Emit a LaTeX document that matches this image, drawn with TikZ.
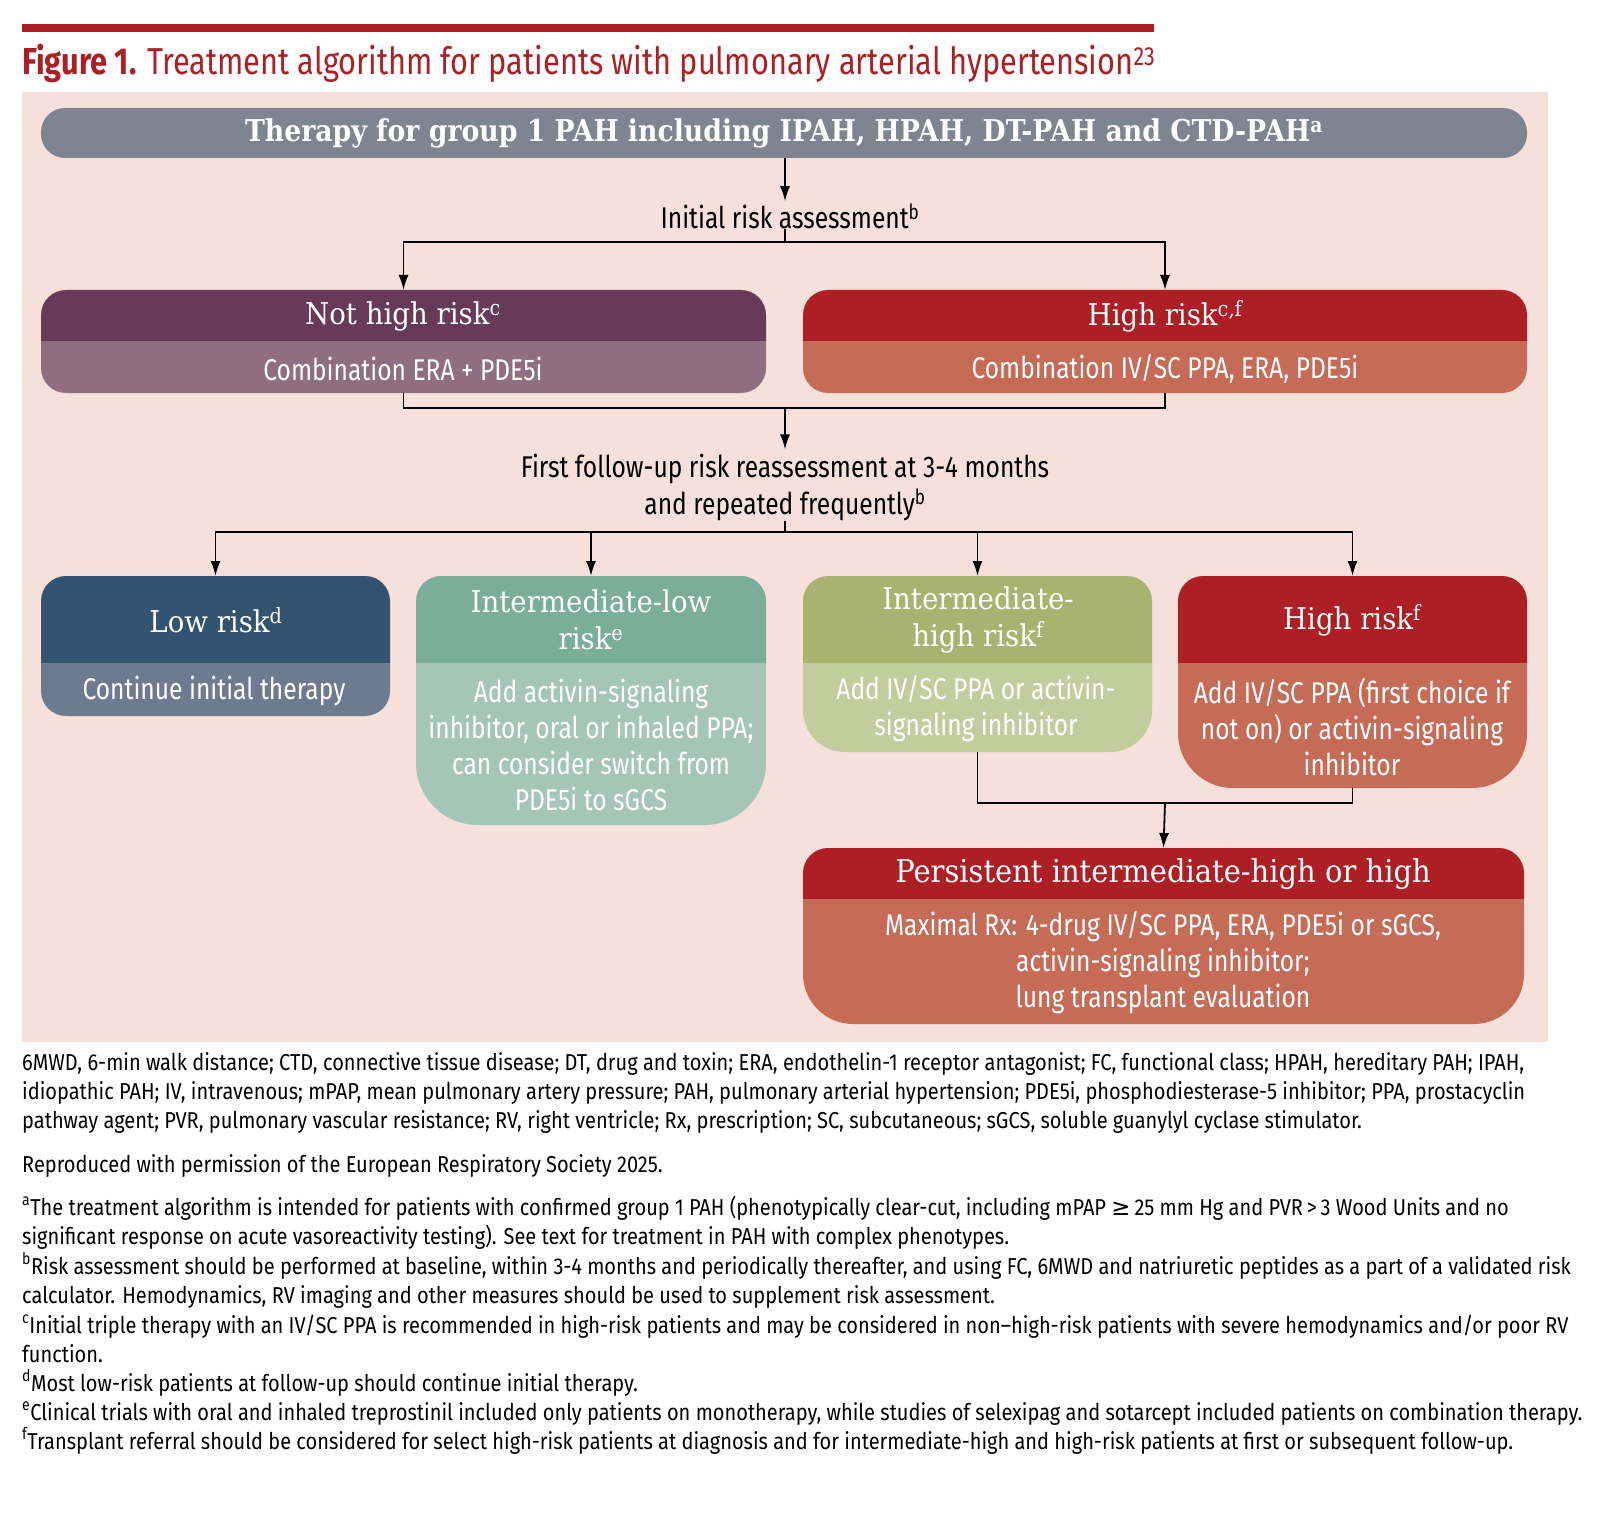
\documentclass[tikz,border=0pt]{standalone}
\usepackage{fontspec}
\setmainfont{Fira Sans}[FakeStretch=0.82]
\newfontfamily\footfam{Fira Sans}[FakeStretch=0.87]
\newfontfamily\slab{DejaVu Serif}[FakeStretch=0.92]
\newfontfamily\slabb{DejaVu Serif}[FakeStretch=0.89]
\newfontfamily\dvs{DejaVu Sans}
\usetikzlibrary{arrows.meta,calc}
\definecolor{bgpink}{HTML}{F5E1DA}
\definecolor{titlered}{HTML}{AD1F24}
\definecolor{topgray}{HTML}{7F8491}
\definecolor{nhrH}{HTML}{663A58}\definecolor{nhrB}{HTML}{8E6E80}
\definecolor{hrH}{HTML}{AD1F24}\definecolor{hrB}{HTML}{C66B56}
\definecolor{lowH}{HTML}{33546F}\definecolor{lowB}{HTML}{6D7B91}
\definecolor{ilH}{HTML}{7AAD9A}\definecolor{ilB}{HTML}{A5C5B8}
\definecolor{ihH}{HTML}{A8B36F}\definecolor{ihB}{HTML}{C3CC9C}
\newcommand\riskbox[8]{%
  \pgfmathsetmacro\rbw{#4-#2}\pgfmathsetmacro\rbh{#6-#3}%
  \pgfmathsetmacro\rbcx{(#2+#4)/2}\pgfmathsetmacro\rbcy{(#3+#6)/2}%
  \begin{scope}\clip (#2-2,#5) rectangle (#4+2,#6+2);
    \fill[#8B, rounded corners=#7pt] (#2,#3) rectangle (#4,#6);\end{scope}
  \begin{scope}\clip (#2-2,#3-2) rectangle (#4+2,#5);
    \fill[#8H, rounded corners=25pt] (#2,#3) rectangle (#4,#6);\end{scope}
  \node[frame, minimum width=\rbw pt, minimum height=\rbh pt] (#1) at (\rbcx,\rbcy) {};
}
\begin{document}
\begin{tikzpicture}[x=1pt,y=-1pt,
  frame/.style={inner sep=0pt, outer sep=0pt, draw=none},
  head/.style={text=white, align=center, inner sep=0pt, font=\slab\fontsize{30}{37}\selectfont},
  body/.style={text=white, align=center, inner sep=0pt, font=\fontsize{30}{36}\selectfont},
  plain/.style={text=black, align=center, inner sep=0pt, font=\fontsize{30}{37}\selectfont},
  foot/.style={text=black, anchor=base west, inner sep=0pt, font=\footfam\fontsize{23}{29}\selectfont},
  conn/.style={line width=1.8pt, black},
  arr/.style={conn, -{Latex[length=15pt,width=10pt]}}]
\useasboundingbox (0,0) rectangle (1622,1530);
\fill[white] (0,0) rectangle (1622,1530);
% title
\fill[titlered] (22,24) rectangle (1154,32);
\node[anchor=base west, inner sep=0pt, text=titlered, font=\fontsize{37.5}{44}\selectfont] (title) at (22,75)
  {{\bfseries Figure 1.} Treatment algorithm for patients with pulmonary arterial hypertension\textsuperscript{23}};
\fill[bgpink] (22,92) rectangle (1548,1042);
% top box
\node[fill=topgray, rounded corners=24pt, minimum width=1486pt, minimum height=50pt, inner sep=0pt,
  text=white, font=\slabb\bfseries\fontsize{30}{36}\selectfont] (top) at (784,133)
  {Therapy for group 1 PAH including IPAH, HPAH, DT-PAH and CTD-PAH\textsuperscript{a}};
\node[plain] (ira) at (790,216) {Initial risk assessment\textsuperscript{b}};
% first row
\riskbox{nhr}{41}{290}{766}{340}{393}{25}{nhr}
\riskbox{hr}{803}{290}{1527}{340}{393}{25}{hr}
\node[head] (nhrh) at (403,316) {Not high risk\textsuperscript{c}};
\node[body] (nhrb) at (403,369) {Combination ERA + PDE5i};
\node[head] (hrh) at (1165,316) {High risk\textsuperscript{c,f}};
\node[body] (hrb) at (1165,369) {Combination IV/SC PPA, ERA, PDE5i};
\node[plain] (ffu) at (785,487) {First follow-up risk reassessment at 3-4 months\\and repeated frequently\textsuperscript{b}};
% second row
\riskbox{low}{41}{576}{390}{662}{716}{25}{low}
\riskbox{il}{416}{576}{766}{662}{825}{62}{il}
\riskbox{ih}{803}{576}{1152}{662}{752}{42}{ih}
\riskbox{h2}{1178}{576}{1527}{662}{788}{55}{hr}
\node[head] (lowh) at (216,620) {Low risk\textsuperscript{d}};
\node[body] (lowb) at (214,691) {Continue initial therapy};
\node[head] (ilh) at (591,620) {Intermediate-low\\risk\textsuperscript{e}};
\node[body] (ilb) at (591,745) {Add activin-signaling\\inhibitor, oral or inhaled PPA;\\can consider switch from\\PDE5i to sGCS};
\node[head] (ihh) at (978,620) {Intermediate-\\high risk\textsuperscript{f}};
\node[body] (ihb) at (976,709) {Add IV/SC PPA or activin-\\signaling inhibitor};
\node[head] (h2h) at (1352,620) {High risk\textsuperscript{f}};
\node[body] (h2b) at (1352,727) {Add IV/SC PPA (first choice if\\not on) or activin-signaling\\inhibitor};
% persistent
\riskbox{pers}{803}{848}{1524}{898}{1024}{50}{hr}
\node[head, font=\slab\fontsize{31.5}{37}\selectfont] (persh) at (1163,874) {Persistent intermediate-high or high};
\node[body] (persb) at (1163,963) {Maximal Rx: 4-drug IV/SC PPA, ERA, PDE5i or sGCS,\\activin-signaling inhibitor;\\lung transplant evaluation};
% connectors
\coordinate (j1) at (785,242);
\coordinate (j2) at (785,408);
\coordinate (j3) at (785,532);
\coordinate (j4) at (1165,803);
\draw[arr] (top.south -| j1) -- ($(ira.north -| j1)+(0,-2)$);
\draw[conn] (ira.south -| j1) -- (j1);
\draw[arr] (j1) -| (nhr.north);
\draw[arr] (j1) -| (hr.north);
\draw[conn] (nhr.south) |- (j2) -| (hr.south);
\draw[arr] (j2) -- ($(ffu.north -| j2)+(0,-4)$);
\draw[conn] (ffu.south -| j3) -- (j3);
\draw[arr] (j3) -| (low.north);
\draw[arr] (j3) -| (il.north);
\draw[arr] (j3) -| (ih.north);
\draw[arr] (j3) -| (h2.north);
\draw[conn] (ih.south) |- (j4) -| (h2.south);
\draw[arr] (j4) -- (pers.north);
% footnotes
\node[foot] (f1) at (22,1070) {6MWD, 6-min walk distance; CTD, connective tissue disease; DT, drug and toxin; ERA, endothelin-1 receptor antagonist; FC, functional class; HPAH, hereditary PAH; IPAH,};
\node[foot] (f2) at (22,1099) {idiopathic PAH; IV, intravenous; mPAP, mean pulmonary artery pressure; PAH, pulmonary arterial hypertension; PDE5i, phosphodiesterase-5 inhibitor; PPA, prostacyclin};
\node[foot] (f3) at (22,1128) {pathway agent; PVR, pulmonary vascular resistance; RV, right ventricle; Rx, prescription; SC, subcutaneous; sGCS, soluble guanylyl cyclase stimulator.};
\node[foot] (f4) at (22,1172) {Reproduced with permission of the European Respiratory Society 2025.};
\node[foot] (f5) at (22,1215) {\textsuperscript{a}The treatment algorithm is intended for patients with confirmed group 1 PAH (phenotypically clear-cut, including mPAP {\dvs≥}\,25 mm Hg and PVR\,>\,3 Wood Units and no};
\node[foot] (f6) at (22,1244) {significant response on acute vasoreactivity testing). See text for treatment in PAH with complex phenotypes.};
\node[foot] (f7) at (22,1274) {\textsuperscript{b}Risk assessment should be performed at baseline, within 3-4 months and periodically thereafter, and using FC, 6MWD and natriuretic peptides as a part of a validated risk};
\node[foot] (f8) at (22,1303) {calculator. Hemodynamics, RV imaging and other measures should be used to supplement risk assessment.};
\node[foot] (f9) at (22,1333) {\textsuperscript{c}Initial triple therapy with an IV/SC PPA is recommended in high-risk patients and may be considered in non–high-risk patients with severe hemodynamics and/or poor RV};
\node[foot] (f10) at (22,1362) {function.};
\node[foot] (f11) at (22,1391) {\textsuperscript{d}Most low-risk patients at follow-up should continue initial therapy.};
\node[foot] (f12) at (22,1420) {\textsuperscript{e}Clinical trials with oral and inhaled treprostinil included only patients on monotherapy, while studies of selexipag and sotarcept included patients on combination therapy.};
\node[foot] (f13) at (22,1449) {\textsuperscript{f}Transplant referral should be considered for select high-risk patients at diagnosis and for intermediate-high and high-risk patients at first or subsequent follow-up.};
\end{tikzpicture}
\end{document}
